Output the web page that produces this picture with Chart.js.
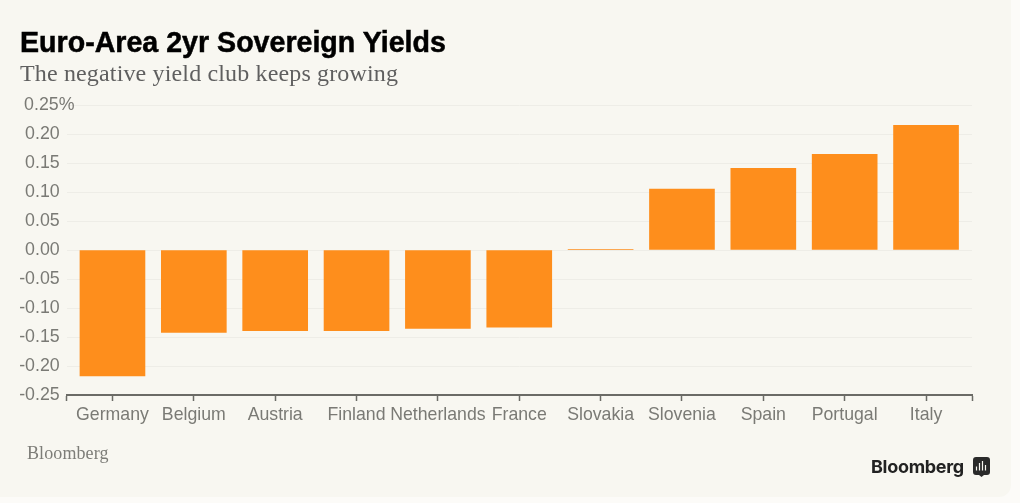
<!DOCTYPE html>
<html>
<head>
<meta charset="utf-8">
<script src="https://cdn.jsdelivr.net/npm/chart.js@4"></script>
<style>
  html, body { margin: 0; padding: 0; background: #fcfbf8; overflow: hidden; }
  #card { position: absolute; left: 0; top: 0; width: 1011px; height: 497px; background: #f8f7f1; border-bottom-right-radius: 12px; }
  canvas { position: absolute; left: 0; top: 0; }
  .txt { position: absolute; white-space: nowrap; }
  #title { left: 20px; top: 26px; font: bold 28.6px "Liberation Sans", sans-serif; color: #000; -webkit-text-stroke: 0.5px #000; }
  #subtitle { left: 20px; top: 60px; font: 24px "Liberation Serif", serif; color: #5f5f5f; letter-spacing: 0.15px; }
  #source { left: 27px; top: 443px; font: 18px "Liberation Serif", serif; color: #7d7d78; letter-spacing: 0.1px; }
  #logo { left: 871px; top: 456px; font: bold 18px "Inter", "Liberation Sans", sans-serif; color: #222; letter-spacing: -0.3px; }
  #icon { position: absolute; left: 973px; top: 457px; }
</style>
</head>
<body>
<div id="card"></div>
<canvas id="yieldChart" width="1020" height="503"></canvas>
<div class="txt" id="title">Euro-Area 2yr Sovereign Yields</div>
<div class="txt" id="subtitle">The negative yield club keeps growing</div>
<div class="txt" id="source">Bloomberg</div>
<div class="txt" id="logo">Bloomberg</div>
<svg id="icon" width="17" height="20" viewBox="0 0 17 20">
  <path d="M3 0h11a3 3 0 0 1 3 3v12a3 3 0 0 1-3 3h-3l-2.500 2-2.500-2H3a3 3 0 0 1-3-3V3a3 3 0 0 1 3-3z" fill="#2a2a2a"/>
  <path d="M3.500 9.500v4M6.500 6v7.500M9.500 4v9.500M12.500 8v5.500" stroke="#f8f7f1" stroke-width="1.200"/>
</svg>
<script>
const countries = ["Germany", "Belgium", "Austria", "Finland", "Netherlands", "France", "Slovakia", "Slovenia", "Spain", "Portugal", "Italy"];
const yields = [-0.217, -0.142, -0.139, -0.139, -0.135, -0.133, 0.001, 0.105, 0.141, 0.165, 0.215];
const yTicks = [0.25, 0.20, 0.15, 0.10, 0.05, 0.00, -0.05, -0.10, -0.15, -0.20, -0.25];

const grey = "#7a7a75";

new Chart(document.getElementById("yieldChart"), {
  type: "bar",
  data: {
    datasets: [{
      data: countries.map((c, i) => ({ x: i, y: yields[i] })),
      backgroundColor: "#fe8e1c",
      barThickness: 65
    }]
  },
  options: {
    responsive: false,
    animation: false,
    layout: { padding: { top: 105, right: 48, bottom: 60, left: 0 } },
    plugins: { legend: { display: false }, tooltip: { enabled: false } },
    scales: {
      x: {
        type: "linear",
        offset: false,
        min: -0.565,
        max: 10.565,
        afterFit: s => { s.height = 48; },
        afterBuildTicks: s => {
          s.ticks = [s.min, ...countries.map((c, i) => i), s.max].map(v => ({ value: v }));
        },
        border: { color: "#6b6b66", width: 2 },
        grid: { offset: false, drawOnChartArea: false, tickLength: 6, tickColor: "#6b6b66", tickWidth: 1.5 },
        ticks: {
          autoSkip: false,
          maxRotation: 0,
          padding: 3,
          color: grey,
          font: { family: "'Liberation Sans', sans-serif", size: 17.7 },
          callback: v => (Number.isInteger(v) ? countries[v] : "")
        }
      },
      y: {
        min: -0.25,
        max: 0.25,
        afterFit: s => {
          s.width = 66.5;
          // "0.25%" runs past the axis edge, so the label clip has to go
          s._computeLabelArea = () => undefined;
        },
        afterBuildTicks: s => { s.ticks = yTicks.map(v => ({ value: v })); },
        border: { display: false },
        grid: { color: "#eeede7", lineWidth: 1, drawTicks: false },
        ticks: {
          padding: -8,
          color: grey,
          font: { family: "'Liberation Sans', sans-serif", size: 17.8 },
          // top label carries the % sign, the rest are padded so the numbers line up
          callback: v => (v === 0.25 ? "0.25%" : v.toFixed(2) + "\u00a0\u00a0\u00a0")
        }
      }
    }
  }
});
</script>
</body>
</html>
